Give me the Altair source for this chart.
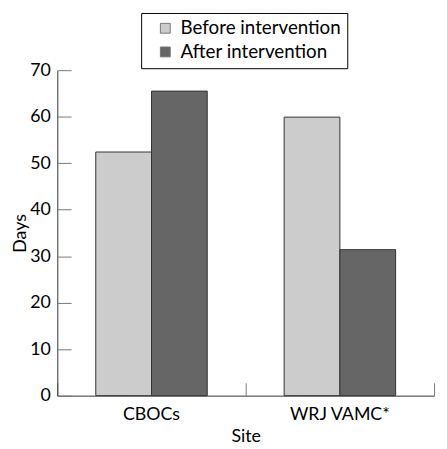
import altair as alt
import pandas as pd

sites = ["CBOCs", "WRJ VAMC*"]
periods = ["Before intervention", "After intervention"]
before_days = [52.4, 59.9]
after_days = [65.5, 31.4]

rows = []
for i, s in enumerate(sites):
    rows.append({"site": s, "period": periods[0], "days": before_days[i]})
    rows.append({"site": s, "period": periods[1], "days": after_days[i]})
df = pd.DataFrame(rows)

FONT = "Lato"
W, H = 382, 330

x_scale = alt.Scale(paddingInner=0, paddingOuter=0)
y_scale = alt.Scale(domain=[0, 70], nice=False)

bars = alt.Chart(df).mark_bar(stroke="#333333", strokeWidth=1).encode(
    x=alt.X("site:N", sort=sites, scale=x_scale, title="Site",
            axis=alt.Axis(orient="bottom", labelAngle=0, ticks=False,
                          labelPadding=10, labelFontSize=18, titleFontSize=18,
                          titlePadding=4, labelColor="#000", titleColor="#000",
                          titleFontWeight="normal", domainColor="#333",
                          labelFont=FONT, titleFont=FONT, grid=False)),
    xOffset=alt.XOffset("period:N", sort=periods,
                        scale=alt.Scale(paddingInner=0, paddingOuter=0.69)),
    y=alt.Y("days:Q", scale=y_scale, title="Days",
            axis=alt.Axis(orient="left", values=[0, 10, 20, 30, 40, 50, 60, 70],
                          ticks=False, labelPadding=7, labelFontSize=18,
                          titleFontSize=18, titleX=-28, labelColor="#000",
                          titleColor="#000", titleFontWeight="normal",
                          domainColor="#333", labelFont=FONT, titleFont=FONT,
                          grid=False)),
    color=alt.Color("period:N", sort=periods,
                    scale=alt.Scale(domain=periods, range=["#cccccc", "#666666"]),
                    legend=alt.Legend(title=None, orient="none", legendX=85,
                                      legendY=-58, direction="vertical",
                                      strokeColor="#000", padding=6,
                                      symbolOffset=9,
                                      symbolType="square", symbolSize=100,
                                      symbolStrokeColor="#777", symbolStrokeWidth=1,
                                      labelFontSize=19, labelFont=FONT,
                                      labelColor="#000", labelOffset=6,
                                      labelLimit=400, rowPadding=4)),
)

ticks = alt.Chart(df).mark_point(opacity=0).encode(
    x=alt.X("site:N", sort=sites, scale=x_scale, title=None,
            axis=alt.Axis(orient="top", offset=-H, labels=False, domain=False,
                          tickBand="extent", tickSize=13, tickColor="#777",
                          grid=False)),
    y=alt.Y("days:Q", scale=y_scale, title=None,
            axis=alt.Axis(orient="right", offset=-W, labels=False, domain=False,
                          values=[0, 10, 20, 30, 40, 50, 60, 70],
                          tickSize=14, tickColor="#777", grid=False)),
)

chart = alt.layer(bars, ticks).resolve_axis(x="independent", y="independent").properties(
    width=W, height=H,
    background="white",
    autosize=alt.AutoSizeParams(type="none"),
    padding={"left": 50, "top": 60, "right": 5, "bottom": 48},
).configure_view(strokeWidth=0, stroke="transparent")

chart.save("out.html", embed_options={"renderer": "svg", "actions": False})
